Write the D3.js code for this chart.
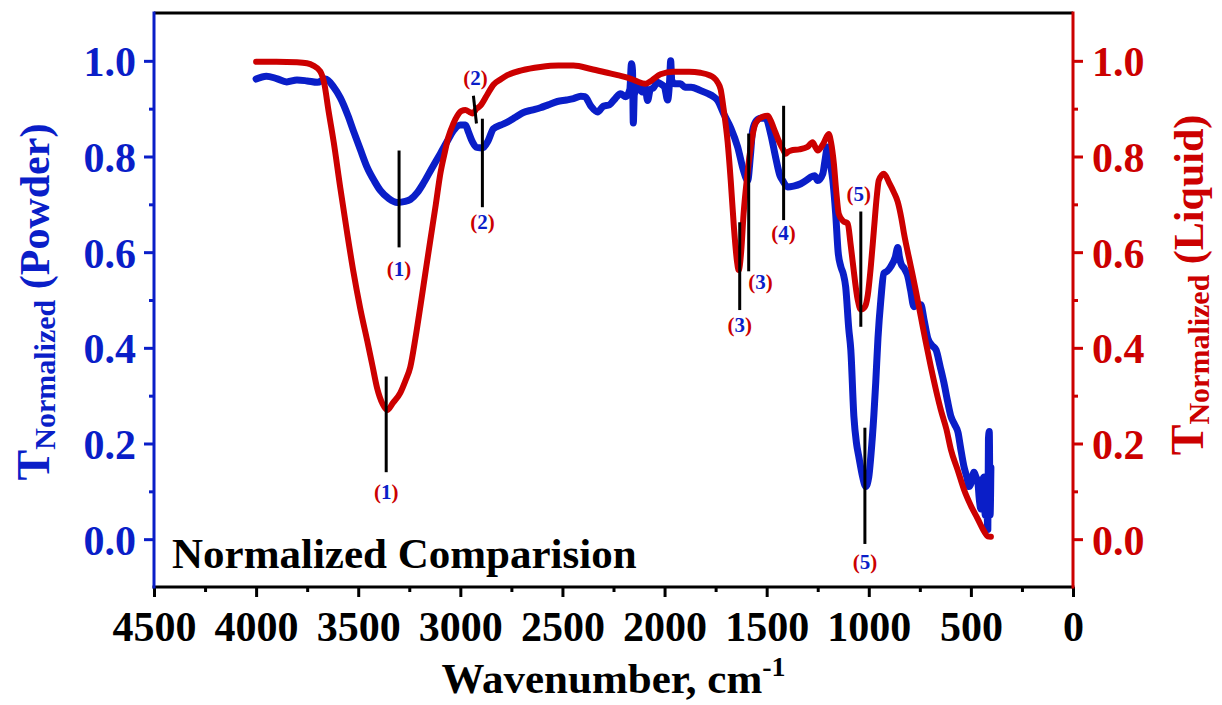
<!DOCTYPE html>
<html>
<head>
<meta charset="utf-8">
<script src="https://cdn.jsdelivr.net/npm/d3@7/dist/d3.min.js"></script>
<style>
  html, body { margin: 0; padding: 0; background: #fff; }
  svg { display: block; }
  text { font-family: "Liberation Serif", "Times New Roman", serif; font-weight: bold; }
</style>
</head>
<body>
<div id="chart"></div>
<script>
// Powder spectrum (blue, left axis)
const powderWavenumber = [4000, 3950, 3900, 3850, 3800, 3750, 3700, 3660, 3620, 3588, 3550, 3524, 3490, 3456, 3420, 3392, 3350, 3309, 3270, 3245, 3210, 3181, 3140, 3098, 3060, 3034, 3000, 2975, 2961, 2940, 2920, 2890, 2865, 2838, 2800, 2770, 2730, 2691, 2650, 2608, 2570, 2525, 2480, 2446, 2410, 2390, 2360, 2328, 2300, 2270, 2240, 2216, 2190, 2170, 2162, 2157, 2153, 2148, 2130, 2110, 2095, 2083, 2070, 2054, 2035, 2020, 2000, 1985, 1975, 1970, 1965, 1950, 1922, 1900, 1870, 1824, 1790, 1760, 1740, 1711, 1676, 1642, 1613, 1593, 1580, 1569, 1550, 1530, 1505, 1480, 1456, 1435, 1422, 1397, 1368, 1333, 1300, 1284, 1265, 1250, 1225, 1215, 1201, 1190, 1176, 1162, 1150, 1137, 1125, 1113, 1098, 1088, 1073, 1060, 1049, 1030, 1015, 1000, 990, 975, 966, 955, 941, 926, 910, 892, 870, 858, 850, 843, 825, 809, 795, 779, 765, 745, 730, 711, 690, 671, 650, 632, 615, 598, 580, 563, 550, 534, 520, 509, 497, 485, 475, 466, 458, 451, 445, 436, 430, 424, 417, 414, 410, 406, 402];
const powderT = [0.962, 0.968, 0.963, 0.956, 0.960, 0.958, 0.955, 0.962, 0.945, 0.923, 0.885, 0.854, 0.815, 0.777, 0.748, 0.729, 0.712, 0.704, 0.706, 0.710, 0.725, 0.744, 0.775, 0.806, 0.835, 0.854, 0.866, 0.866, 0.852, 0.830, 0.819, 0.818, 0.832, 0.858, 0.866, 0.872, 0.882, 0.892, 0.897, 0.902, 0.908, 0.915, 0.918, 0.921, 0.926, 0.925, 0.905, 0.893, 0.905, 0.908, 0.922, 0.931, 0.925, 0.940, 0.994, 0.980, 0.870, 0.930, 0.945, 0.935, 0.945, 0.917, 0.940, 0.944, 0.955, 0.952, 0.945, 0.918, 0.960, 1.000, 0.960, 0.952, 0.952, 0.945, 0.945, 0.938, 0.932, 0.925, 0.917, 0.890, 0.860, 0.820, 0.770, 0.750, 0.800, 0.854, 0.875, 0.880, 0.880, 0.847, 0.798, 0.760, 0.750, 0.736, 0.738, 0.743, 0.752, 0.757, 0.760, 0.750, 0.764, 0.790, 0.820, 0.790, 0.750, 0.680, 0.600, 0.570, 0.555, 0.527, 0.440, 0.396, 0.257, 0.200, 0.173, 0.130, 0.110, 0.130, 0.173, 0.260, 0.327, 0.420, 0.500, 0.556, 0.560, 0.570, 0.590, 0.610, 0.590, 0.577, 0.565, 0.550, 0.520, 0.486, 0.490, 0.490, 0.460, 0.420, 0.405, 0.396, 0.360, 0.327, 0.290, 0.257, 0.240, 0.223, 0.190, 0.152, 0.130, 0.110, 0.120, 0.140, 0.130, 0.119, 0.080, 0.063, 0.120, 0.130, 0.050, 0.100, 0.020, 0.210, 0.225, 0.050, 0.150];

// Liquid spectrum (red, right axis)
const liquidWavenumber = [4000, 3900, 3800, 3751, 3720, 3686, 3665, 3647, 3620, 3588, 3556, 3524, 3490, 3456, 3430, 3407, 3380, 3358, 3330, 3294, 3270, 3245, 3220, 3196, 3170, 3147, 3120, 3098, 3078, 3059, 3035, 3015, 2995, 2975, 2955, 2941, 2920, 2902, 2870, 2838, 2800, 2770, 2700, 2608, 2520, 2446, 2360, 2280, 2230, 2182, 2140, 2093, 2060, 2020, 1956, 1880, 1824, 1780, 1760, 1740, 1725, 1711, 1691, 1676, 1660, 1645, 1637, 1625, 1613, 1595, 1578, 1554, 1525, 1495, 1480, 1466, 1441, 1420, 1407, 1395, 1382, 1340, 1300, 1275, 1262, 1250, 1225, 1196, 1185, 1171, 1160, 1147, 1125, 1103, 1090, 1078, 1054, 1039, 1020, 1005, 990, 975, 960, 951, 926, 900, 877, 858, 840, 828, 794, 770, 745, 720, 696, 670, 647, 620, 598, 565, 534, 500, 466, 440, 417, 402];
const liquidT = [0.998, 0.998, 0.997, 0.995, 0.990, 0.978, 0.950, 0.900, 0.830, 0.735, 0.645, 0.560, 0.482, 0.415, 0.362, 0.315, 0.282, 0.270, 0.285, 0.306, 0.330, 0.360, 0.420, 0.486, 0.560, 0.625, 0.700, 0.764, 0.805, 0.840, 0.868, 0.885, 0.895, 0.897, 0.893, 0.890, 0.900, 0.906, 0.928, 0.950, 0.962, 0.970, 0.980, 0.987, 0.990, 0.990, 0.983, 0.975, 0.970, 0.965, 0.958, 0.952, 0.960, 0.972, 0.977, 0.977, 0.975, 0.970, 0.965, 0.955, 0.940, 0.900, 0.830, 0.750, 0.650, 0.580, 0.5625, 0.600, 0.680, 0.760, 0.820, 0.870, 0.882, 0.885, 0.875, 0.860, 0.833, 0.815, 0.806, 0.810, 0.8125, 0.815, 0.820, 0.830, 0.820, 0.8125, 0.825, 0.847, 0.830, 0.785, 0.730, 0.680, 0.665, 0.660, 0.620, 0.577, 0.500, 0.480, 0.485, 0.510, 0.570, 0.646, 0.720, 0.750, 0.764, 0.745, 0.725, 0.705, 0.670, 0.640, 0.570, 0.520, 0.465, 0.410, 0.360, 0.310, 0.270, 0.230, 0.1875, 0.145, 0.104, 0.070, 0.042, 0.020, 0.006, 0.005];

// Peak markers: wavenumber, top/bottom of the line (T units), label number and where its baseline sits
const markerWavenumber = [3300, 3363, 2936, 2892, 1632, 1588, 1417, 1039, 1019];
const markerWavenumberEnd = [3300, 3363, 2921, 2892, 1632, 1588, 1417, 1039, 1019];
const markerTop = [0.8125, 0.34, 0.927, 0.879, 0.6625, 0.848, 0.906, 0.685, 0.233];
const markerBottom = [0.61, 0.14, 0.869, 0.694, 0.479, 0.56, 0.667, 0.444, -0.01];
const markerLabel = ['1', '1', '2', '2', '3', '3', '4', '5', '5'];
const labelWavenumber = [3300, 3363, 2926, 2892, 1632, 1530, 1417, 1049, 1019];
const labelT = [0.55, 0.085, 0.95, 0.648, 0.433, 0.523, 0.625, 0.706, -0.0625];

const xTicks = [4500, 4000, 3500, 3000, 2500, 2000, 1500, 1000, 500, 0];
const xMinorTicks = [4250, 3750, 3250, 2750, 2250, 1750, 1250, 750, 250];
const yTicks = [0.0, 0.2, 0.4, 0.6, 0.8, 1.0];
const yMinorTicks = [0.1, 0.3, 0.5, 0.7, 0.9];

const blue = '#0a1ec8';
const red = '#cc0000';
const width = 1222, height = 705;
const margin = { top: 13, right: 149, bottom: 118, left: 154 };

const svg = d3.select('#chart').append('svg')
  .attr('width', width)
  .attr('height', height);

const x = d3.scaleLinear().domain([4500, 0]).range([margin.left, width - margin.right]);
const yL = d3.scaleLinear().domain([-0.1, 1.1]).range([height - margin.bottom, margin.top]);
const yR = d3.scaleLinear().domain([-0.1, 1.1]).range([height - margin.bottom, margin.top]);

const x0 = margin.left, x1 = width - margin.right;
const y0 = height - margin.bottom, y1 = margin.top;

// Curves
const powder = powderWavenumber.map((w, i) => [w, powderT[i]]);
const liquid = liquidWavenumber.map((w, i) => [w, liquidT[i]]);

const lineL = d3.line().x(d => x(d[0])).y(d => yL(d[1])).curve(d3.curveMonotoneX);
const lineR = d3.line().x(d => x(d[0])).y(d => yR(d[1])).curve(d3.curveMonotoneX);

svg.append('path')
  .datum(powder)
  .attr('fill', 'none')
  .attr('stroke', blue)
  .attr('stroke-width', 7)
  .attr('stroke-linejoin', 'round')
  .attr('stroke-linecap', 'round')
  .attr('d', lineL);

svg.append('path')
  .datum(liquid)
  .attr('fill', 'none')
  .attr('stroke', red)
  .attr('stroke-width', 6)
  .attr('stroke-linejoin', 'round')
  .attr('stroke-linecap', 'round')
  .attr('d', lineR);

// Peak markers
markerWavenumber.forEach((w, i) => {
  svg.append('line')
    .attr('x1', x(w)).attr('y1', yL(markerTop[i]))
    .attr('x2', x(markerWavenumberEnd[i])).attr('y2', yL(markerBottom[i]))
    .attr('stroke', '#000')
    .attr('stroke-width', 3);

  const t = svg.append('text')
    .attr('x', x(labelWavenumber[i]))
    .attr('y', yL(labelT[i]))
    .attr('text-anchor', 'middle')
    .attr('font-size', 21);
  t.append('tspan').attr('fill', red).text('(');
  t.append('tspan').attr('fill', blue).text(markerLabel[i]);
  t.append('tspan').attr('fill', red).text(')');
});

// Axes
function styleAxis(g, color, size) {
  g.select('.domain').remove();
  g.selectAll('.tick line').attr('stroke', color).attr('stroke-width', 3);
  g.selectAll('.tick text')
    .attr('fill', color)
    .attr('font-size', size)
    .attr('font-family', '"Liberation Serif", "Times New Roman", serif')
    .attr('font-weight', 'bold');
}

const gx = svg.append('g')
  .attr('transform', `translate(0,${y0})`)
  .call(d3.axisBottom(x).tickValues(xTicks).tickFormat(d3.format('d')).tickSize(10).tickPadding(14));
styleAxis(gx, '#000', 42);

svg.append('g')
  .attr('transform', `translate(0,${y0})`)
  .call(d3.axisBottom(x).tickValues(xMinorTicks).tickFormat('').tickSize(5))
  .call(g => styleAxis(g, '#000', 0));

const gyl = svg.append('g')
  .attr('transform', `translate(${x0},0)`)
  .call(d3.axisLeft(yL).tickValues(yTicks).tickFormat(d3.format('.1f')).tickSize(10).tickPadding(8));
styleAxis(gyl, blue, 42);
gyl.selectAll('.tick text').attr('dy', '0.36em');

svg.append('g')
  .attr('transform', `translate(${x0},0)`)
  .call(d3.axisLeft(yL).tickValues(yMinorTicks).tickFormat('').tickSize(5))
  .call(g => styleAxis(g, blue, 0));

const gyr = svg.append('g')
  .attr('transform', `translate(${x1},0)`)
  .call(d3.axisRight(yR).tickValues(yTicks).tickFormat(d3.format('.1f')).tickSize(10).tickPadding(9));
styleAxis(gyr, red, 42);
gyr.selectAll('.tick text').attr('dy', '0.36em');

svg.append('g')
  .attr('transform', `translate(${x1},0)`)
  .call(d3.axisRight(yR).tickValues(yMinorTicks).tickFormat('').tickSize(5))
  .call(g => styleAxis(g, red, 0));

// Frame lines
svg.append('line').attr('x1', x0).attr('x2', x1).attr('y1', y1).attr('y2', y1)
  .attr('stroke', '#000').attr('stroke-width', 3);
svg.append('line').attr('x1', x0 - 1.5).attr('x2', x1 + 1.5).attr('y1', y0).attr('y2', y0)
  .attr('stroke', '#000').attr('stroke-width', 3);
svg.append('line').attr('x1', x0).attr('x2', x0).attr('y1', y1 - 1.5).attr('y2', y0 + 1.5)
  .attr('stroke', blue).attr('stroke-width', 3);
svg.append('line').attr('x1', x1).attr('x2', x1).attr('y1', y1 - 1.5).attr('y2', y0 + 1.5)
  .attr('stroke', red).attr('stroke-width', 3);

// Titles
const xt = svg.append('text')
  .attr('x', (x0 + x1) / 2)
  .attr('y', 693)
  .attr('text-anchor', 'middle')
  .attr('font-size', 43)
  .attr('fill', '#000');
xt.append('tspan').text('Wavenumber, cm');
xt.append('tspan').attr('font-size', 28).attr('dy', -17).text('-1');

function yTitle(tx, ty, color, name) {
  const t = svg.append('text')
    .attr('transform', `translate(${tx},${ty}) rotate(-90)`)
    .attr('text-anchor', 'middle')
    .attr('fill', color)
    .attr('font-size', 42);
  t.append('tspan').attr('font-size', 46).text('T');
  t.append('tspan').attr('font-size', 30).attr('dy', 6).text('Normalized');
  t.append('tspan').attr('dy', -6).text(' ' + name);
}
yTitle(49, 302, blue, '(Powder)');
yTitle(1203, 285, red, '(Liquid)');

svg.append('text')
  .attr('x', 172)
  .attr('y', 568)
  .attr('font-size', 43)
  .attr('fill', '#000')
  .text('Normalized Comparision');
</script>
</body>
</html>
